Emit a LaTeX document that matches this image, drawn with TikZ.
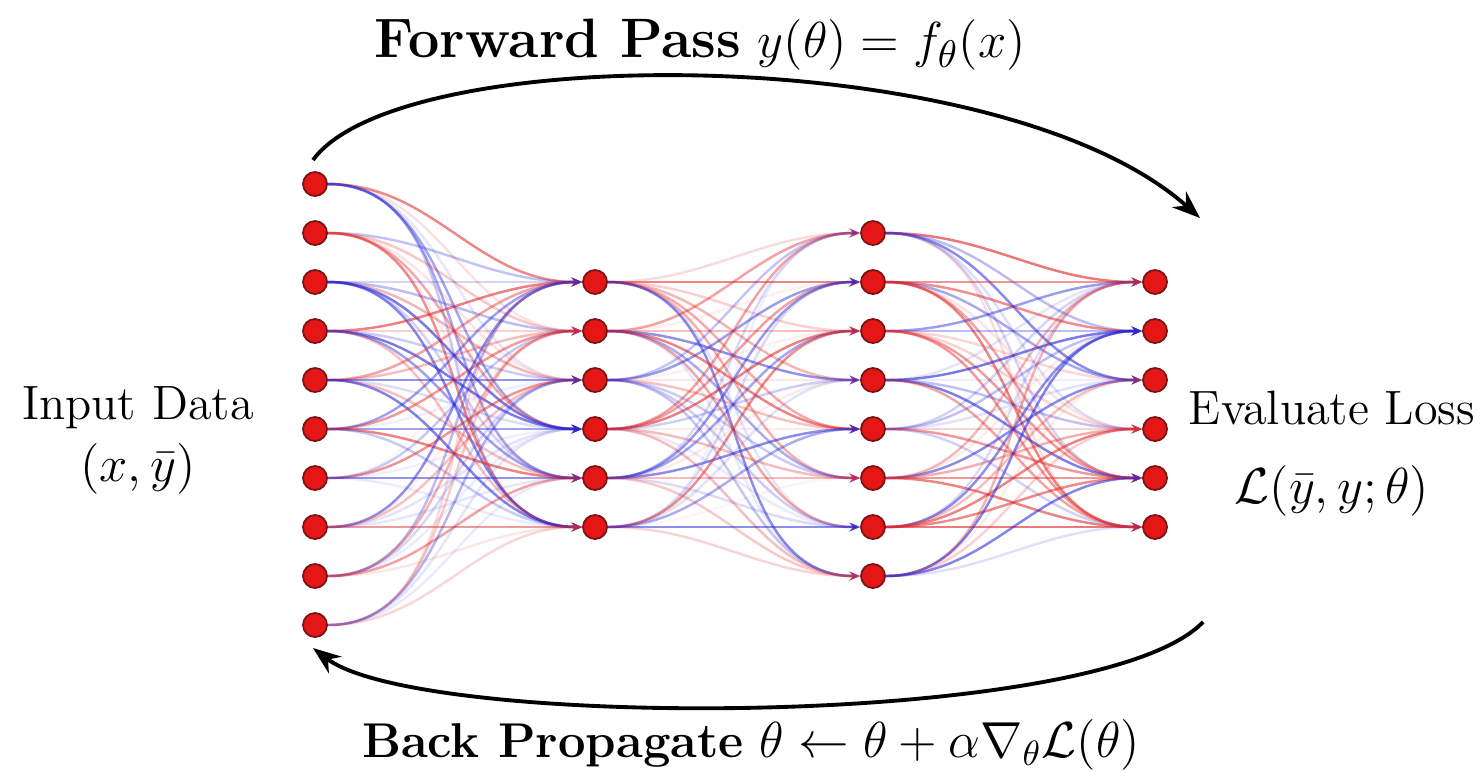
\documentclass[tikz,border=0pt]{standalone}
\usepackage{amsmath}
\usepackage{tikz}
\usetikzlibrary{arrows.meta, positioning, backgrounds}
\definecolor{neuron}{RGB}{228, 22, 22}
\definecolor{neuronrim}{RGB}{120, 20, 20}
\definecolor{wred}{RGB}{225, 40, 40}
\definecolor{wblue}{RGB}{40, 40, 215}

\begin{document}
\begin{tikzpicture}[
    x=0.01cm, y=-0.01cm,
    >=Stealth,
    neuron/.style={circle, draw=neuronrim, fill=neuron, line width=0.5pt, minimum size=0.24cm, inner sep=0pt},
    weight/.style={draw=#1, line width=0.7pt, -{Stealth[length=3pt, width=2.5pt]}},
    loop/.style={->, line width=1.1pt, black},
    lbl/.style={font=\fontsize{13.7}{16}\selectfont, inner sep=1pt},
    title/.style={font=\fontsize{#1}{18}\selectfont, inner sep=1pt},
  ]
  \useasboundingbox (0,0) rectangle (1483,772);
  \pgfmathsetseed{7}

  % Layers
  \foreach \k in {1,...,10} \node[neuron] (a\k) at (315, 135+49*\k) {};
  \foreach \k in {1,...,6}  \node[neuron] (b\k) at (595, 233+49*\k) {};
  \foreach \k in {1,...,8}  \node[neuron] (c\k) at (873, 184+49*\k) {};
  \foreach \k in {1,...,6}  \node[neuron] (d\k) at (1155, 233+49*\k) {};

  % Weights
  \begin{scope}[on background layer]
    \foreach \src/\ns/\dst/\nd in {a/10/b/6, b/6/c/8, c/8/d/6} {
      \foreach \i in {1,...,\ns} {
        \foreach \j in {1,...,\nd} {
          \pgfmathsetmacro\op{0.05+0.58*rnd}
          \pgfmathtruncatemacro\pick{rnd<0.5 ? 1 : 0}
          \ifnum\pick=1 \def\wc{wred}\else\def\wc{wblue}\fi
          \draw[weight=\wc, draw opacity=\op, fill opacity=\op] (\src\i) to[out=0, in=180] (\dst\j);
        }
      }
    }
  \end{scope}

  % Labels
  \node[lbl] (inp) at (138, 408) {Input Data};
  \node[lbl, below=0.06cm of inp] (inpmath) {$(x,\bar{y})$};
  \node[lbl] (loss) at (1332, 408) {Evaluate Loss};
  \node[lbl, below=0.32cm of loss] (lossmath) {$\mathcal{L}(\bar{y},y;\theta)$};
  \node[title=15.8] (fwd) at (700, 45) {\textbf{Forward Pass} $y(\theta)=f_\theta(x)$};
  \node[title=13.9] (bwd) at (751, 745) {\textbf{Back Propagate} $\theta\leftarrow\theta+\alpha\nabla_\theta\mathcal{L}(\theta)$};

  % Loop arrows
  \coordinate (fs) at (313, 160);
  \coordinate (fe) at (1200, 218);
  \coordinate (bs) at (1203, 622);
  \coordinate (be) at (313, 648);
  \draw[loop] (fs) .. controls (400, 40) and (1000, 40) .. (fe);
  \draw[loop] (bs) .. controls (1100, 730) and (420, 730) .. (be);

\end{tikzpicture}
\end{document}
